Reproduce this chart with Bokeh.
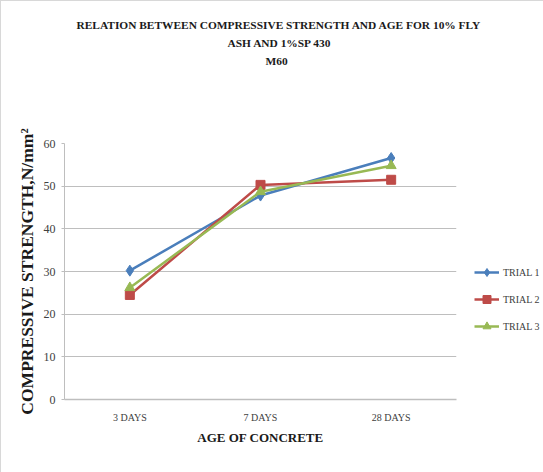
from bokeh.plotting import figure
from bokeh.models import FactorRange, Range1d, Legend, LegendItem, FixedTicker, Title
from bokeh.embed import file_html
from bokeh.resources import INLINE

categories = ["3 DAYS", "7 DAYS", "28 DAYS"]
trial1 = [30.2, 47.8, 56.6]
trial2 = [24.5, 50.3, 51.5]
trial3 = [26.2, 48.7, 54.8]
series_names = ["TRIAL 1", "TRIAL 2", "TRIAL 3"]
y_ticks = [0, 10, 20, 30, 40, 50, 60]
title_lines = ["RELATION BETWEEN COMPRESSIVE STRENGTH  AND AGE FOR 10% FLY",
               "ASH AND 1%SP 430", "M60"]

colors = ["#4A7EBB", "#BE4B48", "#98B954"]
markers = ["diamond", "square", "triangle"]
sizes = [11, 9, 10]

p = figure(frame_width=392, frame_height=256, x_range=FactorRange(*categories, range_padding=0),
           y_range=Range1d(0, 60), output_backend="svg", toolbar_location=None,
           title=None,
           min_border_left=63, min_border_right=80, min_border_top=142, min_border_bottom=74)

# spacer between title block and plot area (innermost panel)
p.add_layout(Title(text=" ", text_font="Liberation Serif", text_font_size="11.4px",
                   standoff=59, vertical_align="top"), "above")

title_offsets = [12, 163, 201]
for txt, off in zip(reversed(title_lines), reversed(title_offsets)):
    t = Title(text=txt, align="left", text_font="Liberation Serif",
              text_font_size="11.4px", text_font_style="bold", standoff=4, offset=off,
              vertical_align="top", text_color="#1a1a1a")
    p.add_layout(t, "above")

p.outline_line_color = None
p.xgrid.grid_line_color = None
p.ygrid.grid_line_color = "#BEBEBE"
p.ygrid.grid_line_width = 1

p.yaxis.ticker = FixedTicker(ticks=y_ticks)
p.yaxis.axis_line_color = "#BEBEBE"
p.yaxis.major_tick_line_color = "#BEBEBE"
p.yaxis.major_tick_out = 3
p.yaxis.major_tick_in = 0
p.yaxis.minor_tick_line_color = None
p.yaxis.major_label_text_font = "Liberation Serif"
p.yaxis.major_label_text_font_size = "12px"
p.yaxis.major_label_text_color = "#404040"
p.yaxis.major_label_standoff = 6
p.yaxis.axis_label = "COMPRESSIVE STRENGTH,N/mm\u00b2"
p.yaxis.axis_label_text_font = "Liberation Serif"
p.yaxis.axis_label_text_font_size = "17.5px"
p.yaxis.axis_label_text_font_style = "bold"
p.yaxis.axis_label_text_color = "#1a1a1a"
p.yaxis.axis_label_standoff = 4

p.xaxis.axis_line_color = "#BEBEBE"
p.xaxis.axis_line_width = 1.5
p.xaxis.major_tick_line_color = None
p.xaxis.major_label_text_font = "Liberation Serif"
p.xaxis.major_label_text_font_size = "10px"
p.xaxis.major_label_text_color = "#404040"
p.xaxis.major_label_standoff = 6
p.xaxis.axis_label = "AGE OF CONCRETE"
p.xaxis.axis_label_text_font = "Liberation Serif"
p.xaxis.axis_label_text_font_size = "13px"
p.xaxis.axis_label_text_font_style = "bold"
p.xaxis.axis_label_text_color = "#1a1a1a"
p.xaxis.axis_label_standoff = 4

items = []
for name, vals, c, m, s in zip(series_names, [trial1, trial2, trial3], colors, markers, sizes):
    r1 = p.line(categories, vals, line_color=c, line_width=2.5)
    r2 = p.scatter(categories, vals, marker=m, size=s, fill_color=c, line_color=c)
    items.append(LegendItem(label=name, renderers=[r1, r2]))

legend = Legend(items=items, location=(18, 63), border_line_color=None,
                background_fill_alpha=0, label_text_font="Liberation Serif",
                label_text_font_size="10px", label_text_color="#404040",
                glyph_width=25, glyph_height=20, label_height=20, spacing=7,
                label_standoff=4, padding=0, margin=0)
p.add_layout(legend, "right")

p.styles = {"border": "1px solid #d8d8d8", "box-sizing": "border-box"}

open("out.html", "w").write(file_html(p, INLINE))
